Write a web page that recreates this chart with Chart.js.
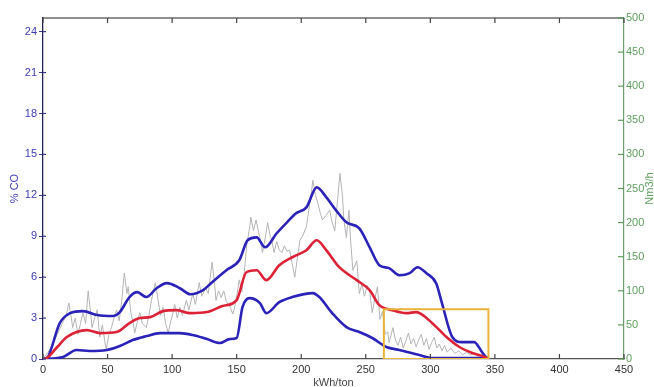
<!DOCTYPE html>
<html>
<head>
<meta charset="utf-8">
<script src="https://cdn.jsdelivr.net/npm/chart.js@4"></script>
<style>
  body { margin: 0; background: #fff; }
  canvas { display: block; }
</style>
</head>
<body>
<canvas id="chart" width="654" height="387"></canvas>
<script>
// tick labels
const energyTicks = [0, 50, 100, 150, 200, 250, 300, 350, 400, 450];
const coTicks = [0, 3, 6, 9, 12, 15, 18, 21, 24];
const flowTicks = [0, 50, 100, 150, 200, 250, 300, 350, 400, 450, 500];

// upper blue band (% CO vs kWh/ton)
const upperX = [0, 3, 13, 21, 31, 42, 54, 59.5, 67, 73, 80, 88, 96, 106, 114, 124, 131, 142, 152, 158.5, 165.5, 172, 181, 189, 196, 204, 212, 219.5, 227, 235, 245, 253, 260.5, 268, 276, 284, 290, 297, 304.5, 309, 317, 324.5, 334, 340, 343, 345];
const upperY = [0, 0.07, 2.63, 3.36, 3.51, 3.22, 3.15, 3.44, 4.54, 4.9, 4.54, 5.19, 5.56, 5.19, 4.75, 5.05, 5.63, 6.51, 7.24, 8.71, 8.92, 8.19, 9.22, 10.02, 10.68, 11.12, 12.58, 11.85, 10.9, 10.02, 9.58, 8.19, 6.88, 6.66, 6.14, 6.29, 6.73, 6.29, 5.56, 4.1, 1.61, 1.24, 1.24, 0.51, 0.15, 0];

// red mean curve
const meanX = [0, 3, 11, 18.5, 26, 34, 44, 57, 67, 75, 83, 93, 103.5, 114, 127, 139, 150, 157.5, 165.5, 173, 183, 193, 204, 212, 219.5, 229.5, 243, 253, 260.5, 270.5, 281.5, 289, 301.5, 312.5, 322.5, 332.5, 342, 345];
const meanY = [0, 0.07, 0.88, 1.61, 1.98, 2.12, 1.9, 1.98, 2.63, 3.0, 3.07, 3.51, 3.58, 3.36, 3.44, 3.88, 4.32, 6.36, 6.51, 5.78, 6.88, 7.46, 7.97, 8.71, 7.97, 6.73, 5.78, 5.05, 3.95, 3.58, 3.36, 3.44, 2.63, 1.61, 0.88, 0.44, 0.15, 0];

// lower blue band
const lowerX = [0, 15.5, 26, 36, 49.5, 59.5, 69.5, 80.5, 90.5, 106, 116, 127, 137, 144.5, 150, 154.5, 160, 168, 173, 183, 193, 209, 214, 224, 235, 245, 255, 266, 276, 291.5, 301.5, 345];
const lowerY = [0, 0.15, 0.66, 0.59, 0.66, 0.95, 1.39, 1.68, 1.9, 1.9, 1.76, 1.46, 1.17, 1.46, 1.54, 3.8, 4.46, 4.1, 3.36, 4.17, 4.54, 4.83, 4.54, 3.36, 2.34, 1.98, 1.54, 0.88, 0.66, 0.29, 0.07, 0.07];

// raw measurement (grey)
const rawX = [0, 4, 8, 12, 15, 18, 20, 22, 23, 25, 27, 29, 31, 33, 35, 37, 38, 40, 42, 44, 46, 48, 49, 51, 53, 55, 57, 59, 61, 63, 65, 66, 68, 70, 71, 73, 75, 77, 80, 82, 84, 87, 89, 91, 93, 95, 97, 99, 100, 102, 104, 106, 108, 111, 113, 116, 118, 121, 123, 126, 128, 131, 133, 134, 136, 138, 140, 142, 145, 147, 148, 150, 152, 154, 156, 158, 160, 161, 163, 165, 167, 168, 170, 172, 174, 176, 177, 179, 181, 183, 185, 187, 189, 191, 193, 195, 197, 199, 201, 204, 206, 208, 209, 211, 213, 215, 216.5, 219, 222, 224, 226, 228, 230, 232, 233, 235, 237, 238, 240, 243, 245, 247, 249, 251, 253, 255, 257, 259, 261, 263, 265, 267, 268, 270, 271, 273, 275, 277, 279, 281, 283, 285, 287, 289, 291, 293, 295, 297, 299, 301, 303, 305, 307, 309, 311, 313, 316, 319, 322, 325, 328, 331, 334, 337, 340, 343, 345];
const rawY = [0, 0.5, 1.2, 2.0, 2.6, 3.2, 4.1, 3.0, 2.3, 3.0, 1.8, 2.6, 3.4, 2.6, 5.0, 3.3, 2.3, 3.0, 3.6, 1.6, 2.5, 1.2, 0.7, 1.8, 2.3, 3.0, 3.6, 2.8, 4.3, 6.3, 4.8, 5.3, 3.4, 2.6, 1.9, 2.7, 3.4, 2.6, 2.3, 3.2, 4.3, 5.6, 4.4, 3.2, 3.8, 2.6, 1.9, 2.8, 3.1, 4.0, 3.0, 3.8, 3.2, 4.3, 3.6, 4.8, 4.0, 5.6, 4.6, 5.2, 4.8, 7.1, 5.4, 4.3, 5.0, 4.5, 5.0, 4.2, 3.8, 3.3, 3.6, 4.6, 5.8, 4.9, 6.5, 8.5, 9.6, 10.4, 9.4, 10.2, 9.3, 8.9, 7.8, 8.8, 10.0, 9.0, 8.8, 7.8, 8.6, 8.0, 7.8, 8.3, 7.9, 8.0, 7.0, 6.0, 7.4, 8.7, 9.0, 9.7, 11.0, 12.3, 13.1, 12.0, 11.4, 10.6, 10.2, 10.5, 10.9, 10.0, 9.4, 11.5, 13.6, 11.9, 10.2, 8.9, 10.9, 9.0, 6.5, 7.2, 4.8, 5.5, 4.6, 5.4, 5.0, 3.4, 4.4, 5.3, 2.9, 3.5, 1.8, 2.0, 1.2, 1.9, 2.3, 1.4, 1.0, 1.6, 0.8, 1.3, 1.9, 1.1, 1.5, 0.9, 1.4, 1.8, 1.0, 1.5, 0.7, 1.2, 1.6, 0.8, 1.1, 0.6, 1.0, 0.5, 0.8, 0.4, 0.6, 0.3, 0.5, 0.3, 0.4, 0.2, 0.3, 0.1, 0];

// highlighted end region
const boxX = [264, 264, 345, 345, 264];
const boxY = [0, 3.65, 3.65, 0, 0];

const pts = (xs, ys) => xs.map((x, i) => ({ x: x, y: ys[i] }));
const FONT = { family: 'Liberation Sans, Arial, sans-serif', size: 11 };

// frame, inward ticks and the axis titles that sit half outside the canvas
const frameTicks = {
    id: 'frameTicks',
    afterDatasetsDraw(chart) {
        const { ctx, chartArea: a, scales } = chart;
        ctx.save();
        ctx.lineWidth = 1.2;
        ctx.strokeStyle = '#222';
        ctx.beginPath();
        ctx.moveTo(a.left, a.top);
        ctx.lineTo(a.right, a.top);
        ctx.stroke();
        ctx.strokeStyle = '#444';
        scales.x.ticks.forEach(t => {
            const px = scales.x.getPixelForValue(t.value);
            ctx.beginPath();
            ctx.moveTo(px, a.bottom);
            ctx.lineTo(px, a.bottom - 5);
            ctx.moveTo(px, a.top);
            ctx.lineTo(px, a.top + 5);
            ctx.stroke();
        });
        ctx.strokeStyle = '#3a3a90';
        scales.y.ticks.forEach(t => {
            const py = scales.y.getPixelForValue(t.value);
            ctx.beginPath();
            ctx.moveTo(a.left, py);
            ctx.lineTo(a.left + 3, py);
            ctx.stroke();
        });
        ctx.strokeStyle = '#5e9a5e';
        scales.y2.ticks.forEach(t => {
            const py = scales.y2.getPixelForValue(t.value);
            ctx.beginPath();
            ctx.moveTo(a.right, py);
            ctx.lineTo(a.right - 6, py);
            ctx.stroke();
        });

        ctx.font = '11px Liberation Sans, Arial, sans-serif';
        ctx.textAlign = 'center';
        ctx.textBaseline = 'middle';
        ctx.fillStyle = '#444';
        ctx.fillText('kWh/ton', (a.left + a.right) / 2, 383);

        // y2 title reads bottom-to-top like the left one
        ctx.translate(650, (a.top + a.bottom) / 2);
        ctx.rotate(-Math.PI / 2);
        ctx.fillStyle = '#5e9e5e';
        ctx.fillText('Nm3/h', 0, 0);
        ctx.restore();
    }
};

new Chart(document.getElementById('chart'), {
    type: 'line',
    data: {
        datasets: [
            { data: pts(boxX, boxY), borderColor: '#e8b338', borderWidth: 2, tension: 0, order: 0 },
            { data: pts(meanX, meanY), borderColor: '#dc2236', borderWidth: 2.6, cubicInterpolationMode: 'monotone', order: 1 },
            { data: pts(upperX, upperY), borderColor: '#2b22b8', borderWidth: 2.6, cubicInterpolationMode: 'monotone', order: 2 },
            { data: pts(lowerX, lowerY), borderColor: '#2b22b8', borderWidth: 2.6, cubicInterpolationMode: 'monotone', order: 2 },
            { data: pts(rawX, rawY), borderColor: '#b4b4b4', borderWidth: 1, tension: 0, order: 3 }
        ]
    },
    options: {
        responsive: false,
        animation: false,
        devicePixelRatio: 1,
        layout: { padding: { top: 18, left: 0, right: 0, bottom: 0 } },
        elements: { point: { radius: 0 } },
        plugins: { legend: { display: false }, tooltip: { enabled: false } },
        scales: {
            x: {
                type: 'linear', min: 0, max: 450,
                afterBuildTicks: s => { s.ticks = energyTicks.map(v => ({ value: v })); },
                afterFit: s => { s.height = 28; },
                grid: { drawOnChartArea: false, drawTicks: false },
                border: { color: '#555', width: 1.3 },
                ticks: { color: '#333', font: FONT, padding: 4, maxRotation: 0 }
            },
            y: {
                position: 'left', min: 0, max: 25,
                afterBuildTicks: s => { s.ticks = coTicks.map(v => ({ value: v })); },
                afterFit: s => { s.width = 43; },
                grid: { drawOnChartArea: false, tickLength: 4, color: '#3a3a90' },
                border: { color: '#222255', width: 1.3 },
                ticks: { color: '#3b3bb0', font: FONT, padding: 2 },
                title: { display: true, text: '% CO', color: '#3b3bb0', font: FONT, padding: { top: 8, bottom: 0 } }
            },
            y2: {
                position: 'right', min: 0, max: 500,
                afterBuildTicks: s => { s.ticks = flowTicks.map(v => ({ value: v })); },
                afterFit: s => { s.width = 30; },
                grid: { drawOnChartArea: false, drawTicks: false },
                border: { color: '#6a9e6a', width: 1.2 },
                ticks: { color: '#5e9e5e', font: FONT, padding: 2 }
            }
        }
    },
    plugins: [frameTicks]
});
</script>
</body>
</html>
